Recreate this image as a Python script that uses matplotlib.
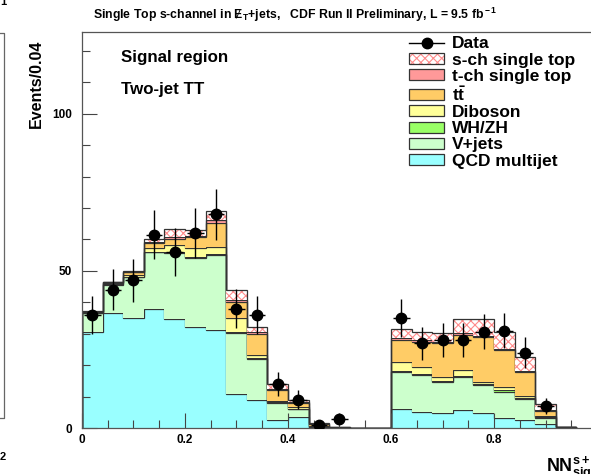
import numpy as np
import matplotlib
matplotlib.use('Agg')
import matplotlib.pyplot as plt
from matplotlib.patches import Patch
from matplotlib.lines import Line2D
from matplotlib.legend_handler import HandlerTuple

plt.rcParams['font.family'] = ['Liberation Sans', 'DejaVu Sans']
plt.rcParams['font.weight'] = 'bold'
plt.rcParams['mathtext.fontset'] = 'custom'
plt.rcParams['mathtext.rm'] = 'Liberation Sans:bold'
plt.rcParams['mathtext.bf'] = 'Liberation Sans:bold'
plt.rcParams['mathtext.it'] = 'Liberation Sans:bold'
plt.rcParams['hatch.linewidth'] = 0.8

# ---- data (events per 0.04 bin, 24 bins from 0 to 0.96) ----
bin_edges = np.round(np.arange(0, 0.9601, 0.04), 2)

qcd     = [30.7, 36.6, 35.0, 37.9, 34.7, 32.3, 31.2, 10.8, 8.9, 2.5, 3.6, 0.1, 0.0, 0, 0,
           6.0, 5.0, 4.7, 5.7, 4.7, 3.1, 2.5, 1.3, 0.3]
vjets   = [5.8, 9.0, 13.0, 18.0, 21.0, 21.7, 23.8, 19.3, 13.0, 5.5, 2.4, 0.3, 0.1, 0, 0,
           11.9, 11.9, 10.0, 10.4, 9.0, 8.5, 6.7, 1.8, 0.1]
whzh    = [0.1, 0.1, 0.2, 0.2, 0.3, 0.3, 0.3, 0.3, 0.3, 0.2, 0.1, 0.0, 0.0, 0, 0,
           0.4, 0.4, 0.3, 0.5, 0.4, 0.4, 0.3, 0.4, 0.0]
diboson = [0.2, 0.3, 0.5, 1.3, 2.3, 2.9, 2.4, 4.6, 1.0, 0.5, 0.5, 0.1, 0.0, 0, 0,
           2.8, 2.2, 1.1, 1.9, 0.7, 1.0, 0.7, 0.3, 0.0]
ttbar   = [0.2, 0.3, 0.8, 1.6, 1.9, 3.5, 7.5, 5.2, 6.7, 3.4, 1.5, 0.8, 0.2, 0, 0,
           6.9, 8.0, 10.9, 11.1, 14.1, 11.8, 7.7, 1.6, 0.0]
tchan   = [0.05, 0.1, 0.1, 0.3, 0.5, 0.5, 1.0, 0.6, 0.5, 0.4, 0.2, 0.1, 0.0, 0, 0,
           0.5, 0.5, 0.5, 0.5, 0.5, 0.5, 0.4, 0.2, 0.0]
schan   = [0.1, 0.1, 0.3, 0.7, 2.7, 1.8, 2.7, 3.2, 1.9, 1.4, 0.5, 0.1, 0.1, 0, 0,
           2.9, 2.7, 2.6, 4.5, 5.2, 5.4, 4.4, 2.0, 0.0]

data     = [36, 44, 47, 61.5, 56, 62, 68, 38, 36, 14, 9, 1, 3, 0, 0,
            35, 27, 28, 28, 30.7, 31, 24, 7, 0]
data_err = [6.0, 6.6, 6.9, 7.8, 7.5, 7.9, 8.2, 6.2, 6.0, 3.7, 3.0, 1.0, 1.7, 0, 0,
            5.9, 5.2, 5.3, 5.3, 5.5, 5.6, 4.9, 2.6, 0]

# stack from bottom to top
components = [
    ('QCD multijet',    qcd,     '#99ffff', None),
    ('V+jets',          vjets,   '#ccffcc', None),
    ('WH/ZH',           whzh,    '#99ff66', None),
    ('Diboson',         diboson, '#ffff99', None),
    (r'$\mathrm{t\bar{t}}$', ttbar, '#ffcc66', None),
    ('t-ch single top', tchan,   '#ff9999', None),
    ('s-ch single top', schan,   'white',   'xxxx'),
]
hatch_col = '#ff8c8c'
line_col = '#333333'

#%% figure
fig = plt.figure(figsize=(5.91, 4.74), dpi=100)
ax = fig.add_axes([0.1387, 0.097, 0.8715, 0.8355])

bottom = np.zeros(len(qcd))
handles = []
for name, vals, col, hatch in components:
    top = bottom + np.array(vals)
    if hatch:
        ax.stairs(top, bin_edges, baseline=bottom, fill=True, facecolor=col,
                  edgecolor=hatch_col, hatch=hatch, linewidth=0)
        h = (Patch(facecolor=col, edgecolor=hatch_col, hatch=hatch, lw=0),
             Patch(facecolor='none', edgecolor=line_col, lw=0.9))
    else:
        ax.stairs(top, bin_edges, baseline=bottom, fill=True, color=col, linewidth=0)
        h = Patch(facecolor=col, edgecolor=line_col, lw=0.9)
    ax.stairs(top, bin_edges, color=line_col, linewidth=0.9)
    handles.append((h, name))
    bottom = top

# data points
centers = 0.5 * (bin_edges[:-1] + bin_edges[1:])
d = np.array(data, dtype=float)
m = d > 0
ax.errorbar(centers[m], d[m], yerr=np.array(data_err)[m], xerr=0.016, fmt='o',
            color='black', ms=7.5, elinewidth=1.0, capsize=0, zorder=5)

ax.set_xlim(0, 1.0)
ax.set_ylim(0, 126)

ax.set_xticks([0, 0.2, 0.4, 0.6, 0.8, 1.0])
ax.set_xticklabels(['0', '0.2', '0.4', '0.6', '0.8', '1'])
ax.set_xticks(np.arange(0, 1.0, 0.05), minor=True)
ax.set_yticks([0, 50, 100])
ax.set_yticks(np.arange(0, 126, 10), minor=True)
ax.tick_params(which='both', direction='in', top=False, right=False,
               labelsize=8.5, width=0.8, color='#444444')
ax.tick_params(which='major', length=11)
ax.tick_params(which='minor', length=5.5)
ax.tick_params(axis='y', pad=7)
ax.tick_params(axis='x', pad=4)
for sp in ax.spines.values():
    sp.set_color('#555555')
    sp.set_linewidth(0.9)

fig.text(0.061, 0.916, 'Events/0.04', rotation=90, ha='center', va='top',
         fontsize=11.5, fontweight='bold')
ax.text(1.0, -0.065, r'NN$^{\rm s+t}_{\rm sig}$', transform=ax.transAxes,
        ha='right', va='top', fontsize=13, fontweight='bold')

ax.text(0.075, 0.935, 'Signal region', transform=ax.transAxes, fontsize=12.2,
        fontweight='bold', va='center')
ax.text(0.075, 0.855, 'Two-jet TT', transform=ax.transAxes, fontsize=12.2,
        fontweight='bold', va='center')

fig.text(0.157, 0.968, 'Single Top s-channel in Ɇ$_{\\rm T}$+jets,   CDF Run II Preliminary, L = 9.5 fb$^{\\rm -1}$',
         ha='left', va='center', fontsize=8.8, fontweight='bold')

data_handle = Line2D([], [], color='black', marker='o', ms=7.5, lw=1.0)
leg_handles = [data_handle] + [h for h, _ in handles[::-1]]
leg_labels = ['Data'] + [n for _, n in handles[::-1]]
ax.legend(leg_handles, leg_labels, loc='upper left', bbox_to_anchor=(0.615, 1.015),
          frameon=False, fontsize=12.5, handlelength=2.0, handleheight=0.6,
          labelspacing=0.07, handletextpad=0.45, borderaxespad=0.2,
          handler_map={tuple: HandlerTuple(ndivide=1, pad=0)})

# edge of the neighbouring panel
fig.add_artist(Line2D([0, 0.007, 0.007, 0], [0.93, 0.93, 0.118, 0.118],
                      transform=fig.transFigure, color='#666666', lw=0.9))
fig.text(0.0, 0.995, '1', ha='left', va='center', fontsize=8)
fig.text(0.0, 0.035, '2', ha='left', va='center', fontsize=8)

fig.savefig('out.png', dpi=100)
